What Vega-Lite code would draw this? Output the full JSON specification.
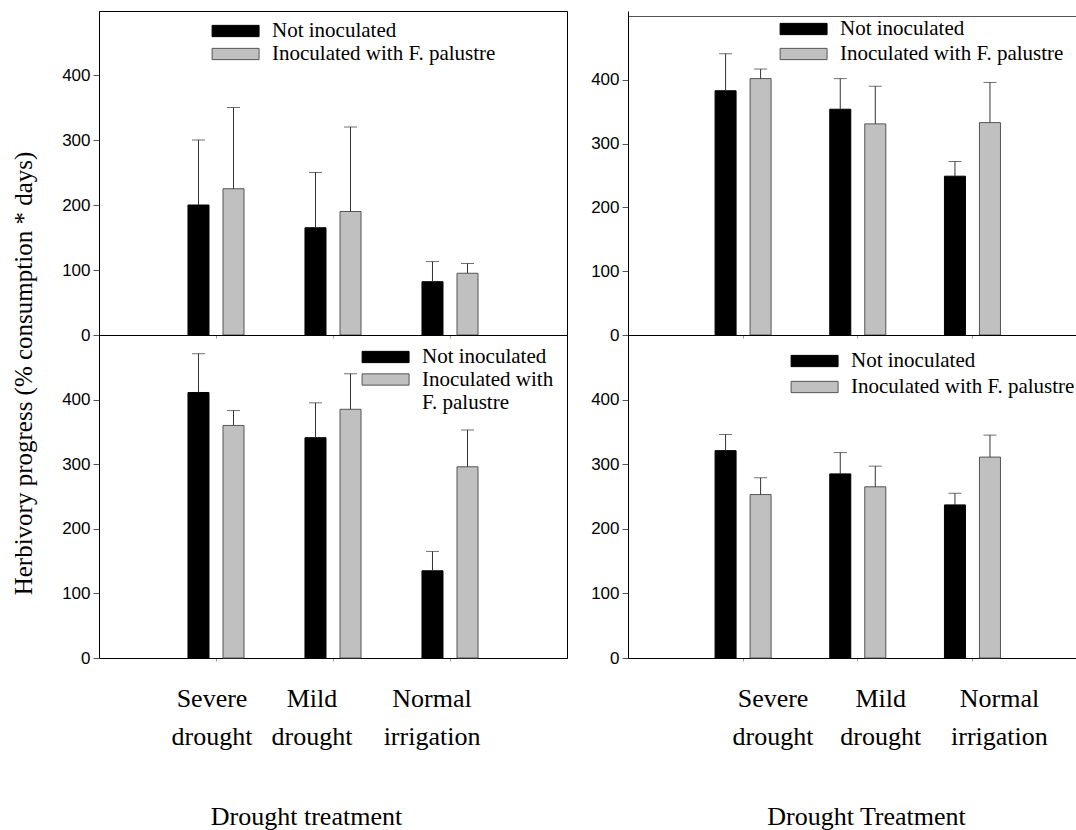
{
  "$schema": "https://vega.github.io/schema/vega-lite/v6.json",
  "padding": {"left": 10, "top": 10, "right": 0, "bottom": 0},
  "background": "white",
  "config": {
    "font": "Liberation Serif",
    "axis": {"domainColor": "#000000", "tickColor": "#555555", "labelColor": "#000000", "titleColor": "#000000", "grid": false, "titleFontWeight": "normal"},
    "axisY": {"labelFont": "Liberation Sans", "labelFontSize": 17, "tickSize": 6, "labelPadding": 3},
    "legend": {"labelFont": "Liberation Serif", "labelFontSize": 21, "labelLimit": 400, "labelOffset": 40, "symbolType": "M-1,-0.6H4V0.6H-1Z", "symbolSize": 353, "symbolStrokeColor": "#555555", "symbolStrokeWidth": 1, "padding": 0}
  },
  "datasets": {
    "bars": [
      {"panel": "A", "treatment": "Severe drought", "group": "Not inoculated", "value": 200, "upper": 300},
      {"panel": "A", "treatment": "Severe drought", "group": "Inoculated with F. palustre", "value": 225, "upper": 350},
      {"panel": "A", "treatment": "Mild drought", "group": "Not inoculated", "value": 165, "upper": 250},
      {"panel": "A", "treatment": "Mild drought", "group": "Inoculated with F. palustre", "value": 190, "upper": 320},
      {"panel": "A", "treatment": "Normal irrigation", "group": "Not inoculated", "value": 82, "upper": 113},
      {"panel": "A", "treatment": "Normal irrigation", "group": "Inoculated with F. palustre", "value": 95, "upper": 110},
      {"panel": "B", "treatment": "Severe drought", "group": "Not inoculated", "value": 383, "upper": 441},
      {"panel": "B", "treatment": "Severe drought", "group": "Inoculated with F. palustre", "value": 402, "upper": 417},
      {"panel": "B", "treatment": "Mild drought", "group": "Not inoculated", "value": 354, "upper": 402},
      {"panel": "B", "treatment": "Mild drought", "group": "Inoculated with F. palustre", "value": 331, "upper": 390},
      {"panel": "B", "treatment": "Normal irrigation", "group": "Not inoculated", "value": 249, "upper": 272},
      {"panel": "B", "treatment": "Normal irrigation", "group": "Inoculated with F. palustre", "value": 333, "upper": 396},
      {"panel": "C", "treatment": "Severe drought", "group": "Not inoculated", "value": 411, "upper": 471},
      {"panel": "C", "treatment": "Severe drought", "group": "Inoculated with F. palustre", "value": 360, "upper": 383},
      {"panel": "C", "treatment": "Mild drought", "group": "Not inoculated", "value": 341, "upper": 395},
      {"panel": "C", "treatment": "Mild drought", "group": "Inoculated with F. palustre", "value": 385, "upper": 440},
      {"panel": "C", "treatment": "Normal irrigation", "group": "Not inoculated", "value": 135, "upper": 165},
      {"panel": "C", "treatment": "Normal irrigation", "group": "Inoculated with F. palustre", "value": 296, "upper": 353},
      {"panel": "D", "treatment": "Severe drought", "group": "Not inoculated", "value": 321, "upper": 346},
      {"panel": "D", "treatment": "Severe drought", "group": "Inoculated with F. palustre", "value": 253, "upper": 279},
      {"panel": "D", "treatment": "Mild drought", "group": "Not inoculated", "value": 285, "upper": 318},
      {"panel": "D", "treatment": "Mild drought", "group": "Inoculated with F. palustre", "value": 265, "upper": 297},
      {"panel": "D", "treatment": "Normal irrigation", "group": "Not inoculated", "value": 237, "upper": 255},
      {"panel": "D", "treatment": "Normal irrigation", "group": "Inoculated with F. palustre", "value": 311, "upper": 345}
    ]
  },
  "data": {"name": "bars"},
  "columns": 2,
  "spacing": {"row": 0, "column": 61},
  "bounds": "flush",
  "resolve": {"scale": {"x": "independent", "y": "independent", "color": "independent", "stroke": "independent"}, "legend": {"color": "independent"}},
  "concat": [
    {
      "width": 468, "height": 324,
      "view": {"stroke": "#000000"},
      "transform": [{"filter": "datum.panel === 'A'"}],
      "encoding": {
        "x": {"field": "treatment", "type": "nominal", "sort": ["Severe drought", "Mild drought", "Normal irrigation"], "scale": {"paddingInner": 0.521, "paddingOuter": 0.7605, "align": 0.5}, "axis": {"labels": false, "title": null, "tickSize": 3, "tickColor": "#999999"}},
        "xOffset": {"field": "group", "type": "nominal", "sort": ["Not inoculated", "Inoculated with F. palustre"], "scale": {"paddingInner": 0.4, "paddingOuter": 0}}
      },
      "layer": [
        {"mark": {"type": "bar", "strokeWidth": 1},
         "encoding": {
           "y": {"field": "value", "type": "quantitative", "scale": {"domain": [0, 498.5], "nice": false}, "axis": {"values": [0, 100, 200, 300, 400], "title": null}},
           "color": {"field": "group", "type": "nominal", "scale": {"domain": ["Not inoculated", "Inoculated with F. palustre"], "range": ["#000000", "#c0c0c0"]}, "legend": {"title": null, "orient": "none", "legendX": 112, "legendY": 9.5, "rowPadding": 1}},
           "stroke": {"field": "group", "type": "nominal", "scale": {"domain": ["Not inoculated", "Inoculated with F. palustre"], "range": ["#000000", "#555555"]}, "legend": null}
         }},
        {"mark": {"type": "rule", "color": "#333333", "strokeWidth": 1},
         "encoding": {"y": {"field": "value", "type": "quantitative", "scale": {"domain": [0, 498.5], "nice": false}, "axis": {"values": [0, 100, 200, 300, 400], "title": null}}, "y2": {"field": "upper"}}},
        {"mark": {"type": "tick", "color": "#333333", "size": 13, "thickness": 1},
         "encoding": {"y": {"field": "upper", "type": "quantitative", "scale": {"domain": [0, 498.5], "nice": false}, "axis": {"values": [0, 100, 200, 300, 400], "title": null}}}}
      ]
    },
    {
      "width": 449, "height": 324,
      "view": {"stroke": null},
      "transform": [{"filter": "datum.panel === 'B'"}],
      "resolve": {"axis": {"x": "independent"}},
      "layer": [
        {"mark": {"type": "bar", "strokeWidth": 1},
         "encoding": {
           "x": {"field": "treatment", "type": "nominal", "sort": ["Severe drought", "Mild drought", "Normal irrigation"], "scale": {"paddingInner": 0.512, "paddingOuter": 0.7135, "align": 0.532}, "axis": {"labels": false, "title": null, "tickSize": 3, "tickColor": "#999999"}},
           "xOffset": {"field": "group", "type": "nominal", "sort": ["Not inoculated", "Inoculated with F. palustre"], "scale": {"paddingInner": 0.4, "paddingOuter": 0}},
           "y": {"field": "value", "type": "quantitative", "scale": {"domain": [0, 508], "nice": false}, "axis": {"values": [0, 100, 200, 300, 400], "title": null}},
           "color": {"field": "group", "type": "nominal", "scale": {"domain": ["Not inoculated", "Inoculated with F. palustre"], "range": ["#000000", "#c0c0c0"]}, "legend": {"title": null, "orient": "none", "legendX": 151, "legendY": 7.5, "rowPadding": 3}},
           "stroke": {"field": "group", "type": "nominal", "scale": {"domain": ["Not inoculated", "Inoculated with F. palustre"], "range": ["#000000", "#555555"]}, "legend": null}
         }},
        {"mark": {"type": "rule", "color": "#333333", "strokeWidth": 1},
         "encoding": {
           "x": {"field": "treatment", "type": "nominal", "sort": ["Severe drought", "Mild drought", "Normal irrigation"], "axis": null},
           "xOffset": {"field": "group", "type": "nominal", "sort": ["Not inoculated", "Inoculated with F. palustre"]},
           "y": {"field": "value", "type": "quantitative", "scale": {"domain": [0, 508], "nice": false}, "axis": {"values": [0, 100, 200, 300, 400], "title": null}}, "y2": {"field": "upper"}}},
        {"mark": {"type": "tick", "color": "#333333", "size": 13, "thickness": 1},
         "encoding": {
           "x": {"field": "treatment", "type": "nominal", "sort": ["Severe drought", "Mild drought", "Normal irrigation"], "axis": {"orient": "top", "offset": -5, "labels": false, "ticks": false, "title": null, "domainColor": "#555555"}},
           "xOffset": {"field": "group", "type": "nominal", "sort": ["Not inoculated", "Inoculated with F. palustre"]},
           "y": {"field": "upper", "type": "quantitative", "scale": {"domain": [0, 508], "nice": false}, "axis": {"values": [0, 100, 200, 300, 400], "title": null}}}}
      ]
    },
    {
      "width": 468, "height": 323,
      "view": {"stroke": "#000000"},
      "transform": [{"filter": "datum.panel === 'C'"}],
      "encoding": {
        "x": {"field": "treatment", "type": "nominal", "sort": ["Severe drought", "Mild drought", "Normal irrigation"], "scale": {"paddingInner": 0.521, "paddingOuter": 0.7605, "align": 0.5},
              "axis": {"labelExpr": "split(datum.label, ' ')", "labelFont": "Liberation Serif", "labelFontSize": 26, "labelLineHeight": 38, "labelPadding": 24, "labelAngle": 0, "labelOverlap": false,
                       "labelOffset": {"condition": [{"test": "datum.value === 'Mild drought'", "value": -21}, {"test": "datum.value === 'Normal irrigation'", "value": -18}], "value": -4},
                       "tickSize": 3, "tickColor": "#999999",
                       "title": "Drought treatment", "titleFont": "Liberation Serif", "titleFontSize": 26, "titleX": 207, "titleY": 166, "titleBaseline": "alphabetic", "titleAlign": "center"}},
        "xOffset": {"field": "group", "type": "nominal", "sort": ["Not inoculated", "Inoculated with F. palustre"], "scale": {"paddingInner": 0.4, "paddingOuter": 0}},
        "y": {"field": "value", "type": "quantitative", "scale": {"domain": [0, 500], "nice": false},
              "axis": {"values": [0, 100, 200, 300, 400], "title": "Herbivory progress (% consumption * days)", "titleFont": "Liberation Serif", "titleFontSize": 25, "titleX": -76, "titleY": 38, "titleAngle": -90, "titleBaseline": "middle", "titleAlign": "center"}}
      },
      "layer": [
        {"mark": {"type": "bar", "strokeWidth": 1},
         "encoding": {
           "color": {"field": "group", "type": "nominal", "scale": {"domain": ["Not inoculated", "Inoculated with F. palustre"], "range": ["#000000", "#c0c0c0"]},
                     "legend": {"title": null, "orient": "none", "legendX": 262, "legendY": 11.5, "rowPadding": 0.5, "labelExpr": "datum.label === 'Inoculated with F. palustre' ? ['Inoculated with', 'F. palustre'] : datum.label"}},
           "stroke": {"field": "group", "type": "nominal", "scale": {"domain": ["Not inoculated", "Inoculated with F. palustre"], "range": ["#000000", "#555555"]}, "legend": null}
         }},
        {"mark": {"type": "rule", "color": "#333333", "strokeWidth": 1},
         "encoding": {"y2": {"field": "upper"}}},
        {"mark": {"type": "tick", "color": "#333333", "size": 13, "thickness": 1},
         "encoding": {"y": {"field": "upper", "type": "quantitative", "scale": {"domain": [0, 500], "nice": false},
              "axis": {"values": [0, 100, 200, 300, 400], "title": "Herbivory progress (% consumption * days)", "titleFont": "Liberation Serif", "titleFontSize": 25, "titleX": -76, "titleY": 38, "titleAngle": -90, "titleBaseline": "middle", "titleAlign": "center"}}}}
      ]
    },
    {
      "width": 449, "height": 323,
      "view": {"stroke": "#000000"},
      "transform": [{"filter": "datum.panel === 'D'"}],
      "encoding": {
        "x": {"field": "treatment", "type": "nominal", "sort": ["Severe drought", "Mild drought", "Normal irrigation"], "scale": {"paddingInner": 0.512, "paddingOuter": 0.7135, "align": 0.532},
              "axis": {"labelExpr": "split(datum.label, ' ')", "labelFont": "Liberation Serif", "labelFontSize": 26, "labelLineHeight": 38, "labelPadding": 24, "labelAngle": 0, "labelOverlap": false,
                       "labelOffset": {"condition": [{"test": "datum.value === 'Mild drought'", "value": 23}, {"test": "datum.value === 'Severe drought'", "value": 30}], "value": 27},
                       "tickSize": 3, "tickColor": "#999999",
                       "title": "Drought Treatment", "titleFont": "Liberation Serif", "titleFontSize": 26, "titleX": 238, "titleY": 166, "titleBaseline": "alphabetic", "titleAlign": "center"}},
        "xOffset": {"field": "group", "type": "nominal", "sort": ["Not inoculated", "Inoculated with F. palustre"], "scale": {"paddingInner": 0.4, "paddingOuter": 0}},
        "y": {"field": "value", "type": "quantitative", "scale": {"domain": [0, 500], "nice": false}, "axis": {"values": [0, 100, 200, 300, 400], "title": null}}
      },
      "layer": [
        {"mark": {"type": "bar", "strokeWidth": 1},
         "encoding": {
           "color": {"field": "group", "type": "nominal", "scale": {"domain": ["Not inoculated", "Inoculated with F. palustre"], "range": ["#000000", "#c0c0c0"]}, "legend": {"title": null, "orient": "none", "legendX": 162, "legendY": 15.5, "rowPadding": 4}},
           "stroke": {"field": "group", "type": "nominal", "scale": {"domain": ["Not inoculated", "Inoculated with F. palustre"], "range": ["#000000", "#555555"]}, "legend": null}
         }},
        {"mark": {"type": "rule", "color": "#333333", "strokeWidth": 1},
         "encoding": {"y2": {"field": "upper"}}},
        {"mark": {"type": "tick", "color": "#333333", "size": 13, "thickness": 1},
         "encoding": {"y": {"field": "upper", "type": "quantitative", "scale": {"domain": [0, 500], "nice": false}, "axis": {"values": [0, 100, 200, 300, 400], "title": null}}}}
      ]
    }
  ]
}
